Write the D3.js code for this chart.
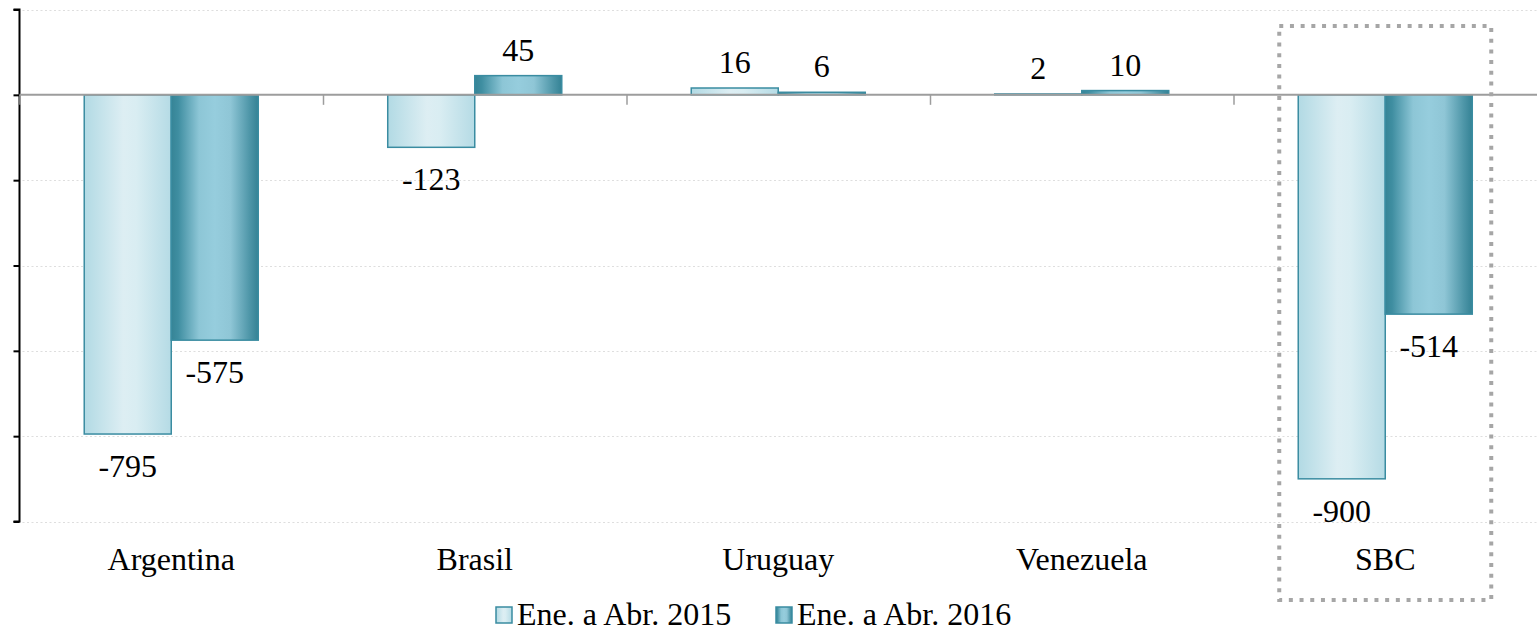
<!DOCTYPE html>
<html>
<head>
<meta charset="utf-8">
<script src="https://cdn.jsdelivr.net/npm/d3@7"></script>
<style>
  html, body { margin: 0; padding: 0; background: #fff; }
  svg { display: block; }
  text { font-family: "Liberation Serif", "Times New Roman", serif; fill: #000; }
</style>
</head>
<body>
<svg id="chart" width="1537" height="632"></svg>
<script>
const categories = ["Argentina", "Brasil", "Uruguay", "Venezuela", "SBC"];
const seriesNames = ["Ene. a Abr. 2015", "Ene. a Abr. 2016"];
const values2015 = [-795, -123, 16, 2, -900];
const values2016 = [-575, 45, 6, 10, -514];
const yTicks = [200, 0, -200, -400, -600, -800, -1000];
const highlighted = "SBC";

(function () {
const svg = d3.select("#chart");
const mLeft = 19.5, mRight = 1537, mTop = 9.5, mBottom = 521.5;
const fs = 32;

const y = d3.scaleLinear().domain([-1000, 200]).range([mBottom, mTop]);
const x0 = d3.scaleBand().domain(categories).range([mLeft, mRight]).paddingInner(0).paddingOuter(0);
const x1 = d3.scaleBand().domain(seriesNames).range([0, x0.bandwidth()]).paddingInner(0).paddingOuter(0.744);

const defs = svg.append("defs");
const g1 = defs.append("linearGradient").attr("id", "grad0").attr("x1", "0%").attr("x2", "100%").attr("y1", "0%").attr("y2", "0%");
[[0, "#b2dae4"], [0.45, "#ddeef3"], [0.6, "#d9edf2"], [1, "#b5dbe5"]].forEach(s =>
  g1.append("stop").attr("offset", s[0]).attr("stop-color", s[1]));
const g2 = defs.append("linearGradient").attr("id", "grad1").attr("x1", "0%").attr("x2", "100%").attr("y1", "0%").attr("y2", "0%");
[[0, "#368496"], [0.08, "#3f8ea1"], [0.32, "#8dc6d6"], [0.5, "#96cddd"], [0.68, "#8fc6d6"], [0.9, "#4e96a8"], [1, "#348295"]].forEach(s =>
  g2.append("stop").attr("offset", s[0]).attr("stop-color", s[1]));

// gridlines
svg.append("g").selectAll("line").data(yTicks.filter(t => t !== 0)).join("line")
  .attr("x1", mLeft + 3).attr("x2", mRight)
  .attr("y1", d => Math.round(y(d)) + 0.5).attr("y2", d => Math.round(y(d)) + 0.5)
  .attr("stroke", "#dedede").attr("stroke-width", 1.2).attr("stroke-dasharray", "2 2.5");

// y axis
const yAxis = d3.axisLeft(y).tickValues(yTicks).tickSize(6).tickFormat("");
const ya = svg.append("g").attr("transform", `translate(${mLeft},0)`).call(yAxis);
ya.select(".domain").attr("stroke", "#000").attr("stroke-width", 2).attr("d", `M-6,${y(200)}H0V${y(-1000)}H-6`);
ya.selectAll(".tick line").attr("stroke", "#000").attr("stroke-width", 2);

// bars
const data = categories.map((c, i) => ({ cat: c, vals: [values2015[i], values2016[i]] }));
const groups = svg.append("g").selectAll("g").data(data).join("g")
  .attr("transform", d => `translate(${x0(d.cat)},0)`);

groups.selectAll("rect").data(d => d.vals.map((v, j) => ({ v, s: seriesNames[j], j }))).join("rect")
  .attr("x", d => x1(d.s))
  .attr("width", x1.bandwidth())
  .attr("y", d => Math.min(y(0), y(d.v)))
  .attr("height", d => Math.abs(y(d.v) - y(0)))
  .attr("fill", d => `url(#grad${d.j})`)
  .attr("stroke", "#3a8ca1")
  .attr("stroke-width", 1.5);

// zero line and x ticks
svg.append("line").attr("x1", mLeft).attr("x2", mRight).attr("y1", y(0)).attr("y2", y(0))
  .attr("stroke", "#9d9d9d").attr("stroke-width", 2);
svg.append("g").selectAll("line").data(categories).join("line")
  .attr("x1", d => x0(d) + 0.5).attr("x2", d => x0(d) + 0.5)
  .attr("y1", y(0)).attr("y2", y(0) + 10)
  .attr("stroke", "#9d9d9d").attr("stroke-width", 1.5);

// value labels
groups.selectAll("text.val").data(d => d.vals.map((v, j) => ({ v, s: seriesNames[j] }))).join("text")
  .attr("class", "val")
  .attr("x", d => x1(d.s) + x1.bandwidth() / 2)
  .attr("y", d => d.v >= 0 ? y(d.v) - 15 : y(d.v) + 43)
  .attr("text-anchor", "middle")
  .attr("font-size", fs)
  .text(d => d.v);

// category labels
svg.append("g").selectAll("text").data(categories).join("text")
  .attr("x", d => x0(d) + x0.bandwidth() / 2)
  .attr("y", 570)
  .attr("text-anchor", "middle")
  .attr("font-size", fs)
  .text(d => d);

// highlight box
const hx = x0(highlighted);
svg.append("rect")
  .attr("x", hx + x0.bandwidth() / 2 - 106).attr("y", 26)
  .attr("width", 212).attr("height", 574)
  .attr("fill", "none").attr("stroke", "#a6a6a6").attr("stroke-width", 4)
  .attr("stroke-dasharray", "4 6.7");

// legend
const legendX = [496, 776];
const lg = svg.append("g").selectAll("g").data(seriesNames).join("g")
  .attr("transform", (d, i) => `translate(${legendX[i]},607)`);
lg.append("rect").attr("width", 16).attr("height", 16)
  .attr("fill", (d, i) => `url(#grad${i})`).attr("stroke", "#3a8ca1").attr("stroke-width", 1.5);
lg.append("text").attr("x", 21).attr("y", 18).attr("font-size", fs).text(d => d);
})();
</script>
</body>
</html>
